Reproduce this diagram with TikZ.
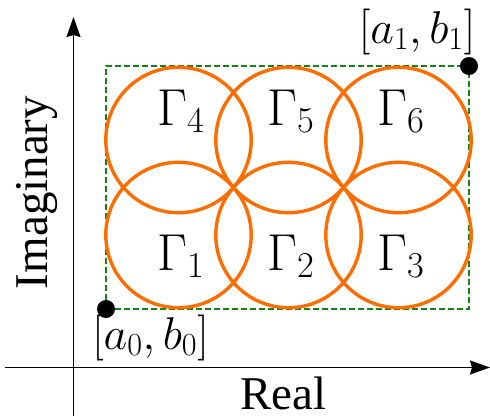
\RequirePackage{fix-cm}
\documentclass[tikz,border=0pt]{standalone}
\usepackage[no-math]{fontspec}
\newfontfamily\timesfont{LiberationSerif}[Extension=.ttf,UprightFont=*-Regular]
\usetikzlibrary{arrows.meta}
\definecolor{circorange}{RGB}{255,108,0}
\definecolor{boxgreen}{RGB}{20,130,20}
\tikzset{
  axisline/.style={line width=1.5pt,-{Stealth[length=20pt,width=14pt,inset=2pt]}},
  region/.style={draw=circorange,line width=3.4pt},
  gammalabel/.style={anchor=base west,inner sep=0pt,font=\fontsize{52}{60}\selectfont},
  cornerlabel/.style={anchor=base,inner sep=0pt,font=\fontsize{46}{52}\selectfont},
  axislabel/.style={anchor=base,inner sep=0pt,font=\timesfont\fontsize{47}{50}\selectfont},
  dot/.style={circle,fill=black,inner sep=0pt,minimum size=18pt},
  boxline/.style={draw=boxgreen,line width=1.8pt,dash pattern=on 6pt off 3pt}
}
\begin{document}
\begin{tikzpicture}[x=1pt,y=-1pt]
\useasboundingbox (0,0) rectangle (490,416);
% axes
\coordinate (xs) at (5,367.5);
\coordinate (xe) at (490,367.5);
\coordinate (ys) at (73.5,416);
\coordinate (ye) at (73.5,17);
\draw[axisline] (xs) -- (xe);
\draw[axisline] (ys) -- (ye);
% dashed box
\coordinate (p0) at (106,309);
\coordinate (p1) at (469,66);
\draw[boxline] (p0) rectangle (p1);
% circles
\foreach \cx/\cy in {178.5/235,288.5/235,398.5/235,178.5/140,288.5/140,398.5/140}{
  \draw[region] (\cx,\cy) circle[radius=72.7];
}
% labels
\node[gammalabel] (g4) at (157,125) {$\Gamma_4$};
\node[gammalabel] (g5) at (267,125) {$\Gamma_5$};
\node[gammalabel] (g6) at (377,125) {$\Gamma_6$};
\node[gammalabel] (g1) at (157,270) {$\Gamma_1$};
\node[gammalabel] (g2) at (267,270) {$\Gamma_2$};
\node[gammalabel] (g3) at (377,270) {$\Gamma_3$};
% corner dots
\node[dot] (d0) at (p0) {};
\node[dot] (d1) at (p1) {};
\node[cornerlabel] (l0) at (150.5,349) {$[a_0,b_0]$};
\node[cornerlabel] (l1) at (417,43) {$[a_1,b_1]$};
% axis labels
\node[axislabel] (real) at (283.5,409) {Real};
\node[axislabel,rotate=90] (imag) at (47,192.5) {Imaginary};
\end{tikzpicture}
\end{document}
